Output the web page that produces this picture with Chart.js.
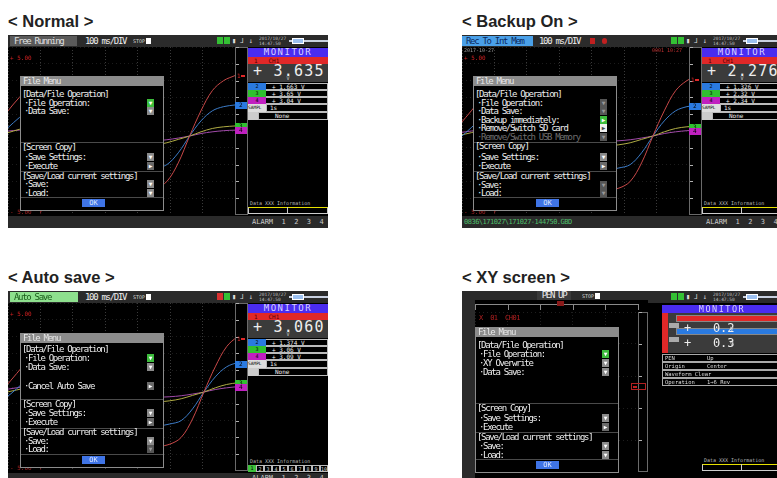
<!DOCTYPE html>
<html><head><meta charset="utf-8">
<script src="https://cdn.jsdelivr.net/npm/chart.js@4.4.1/dist/chart.umd.min.js"></script>
<style>
html,body{margin:0;padding:0}
body{width:777px;height:478px;overflow:hidden;position:relative;background:#fff}
.t{position:absolute;font:bold 16.5px "Liberation Sans",Arial,sans-serif;color:#222;line-height:18px;white-space:nowrap}
.scr{position:absolute;width:320px;height:193px;background:#000;overflow:hidden;font-family:"DejaVu Sans Mono",monospace;color:#e6e6e6}
.a{position:absolute;box-sizing:border-box;white-space:pre;overflow:hidden}
canvas{position:absolute;background:#000}
</style></head><body>
<script>
// ═══════════════════════════════════════════════════════════════
// values (time in DIV, volts)
// ═══════════════════════════════════════════════════════════════
const times = [-1, -0.5, 0, 0.5, 1, 1.5, 2, 2.5, 3, 3.5, 4, 4.5, 5, 5.5, 6, 6.5, 7, 7.5, 8, 8.5, 9, 9.5, 10];
const ch1 = [-0.4, 0.4, 1.2, 2.0, 2.6, 2.9, 3.0, 2.9, 2.5, 1.6, 0.3, -1.2, -2.5, -3.2, -3.5, -3.4, -3.0, -1.9, -0.3, 1.2, 2.4, 3.0, 3.3];
const ch2 = [-0.9, -0.4, 0.2, 0.8, 1.3, 1.6, 1.7, 1.6, 1.2, 0.5, -0.4, -1.3, -1.9, -2.2, -2.3, -2.2, -2.0, -1.3, -0.3, 0.6, 1.2, 1.45, 1.55];
const ch3 = [-0.4, -0.25, -0.1, 0.1, 0.25, 0.3, 0.32, 0.28, 0.15, -0.05, -0.3, -0.55, -0.75, -0.85, -0.88, -0.82, -0.7, -0.5, -0.3, -0.05, 0.15, 0.25, 0.3];
const ch4 = [-0.2, -0.1, 0.0, 0.05, 0.08, 0.1, 0.1, 0.08, 0.0, -0.1, -0.25, -0.4, -0.5, -0.58, -0.6, -0.58, -0.52, -0.42, -0.3, -0.15, -0.05, 0.02, 0.05];
const lineColors = ['#c84848', '#3c7cc8', '#b0ac44', '#a04aa8'];
const tagColors = ['#e02828', '#2a7ae0', '#30c030', '#c020c0'];

// time window shown on each screen
const winNormal = [0, 10];
const winBackup = [-0.41, 9.59];
const winAuto = [-0.63, 9.37];

// XY screen pen position (V)
const penX = [0.2];
const penY = [0.3];

// monitor readouts
const monNormal = ['+ 3.635', '+ 1.663 V', '+ 3.65 V', '+ 3.04 V'];
const monBackup = ['+ 2.276', '+ 1.326 V', '+ 2.32 V', '+ 2.34 V'];
const monAuto = ['+ 3.060', '+ 1.374 V', '+ 3.06 V', '+ 3.09 V'];

// ═══════════════════════════════════════════════════════════════
// helpers
// ═══════════════════════════════════════════════════════════════
const FS = 'font-size:9px;letter-spacing:-1.3px;';

function put(p, x, y, w, h, css, text) {
  const d = document.createElement('div');
  d.className = 'a';
  d.style.cssText = `left:${x}px;top:${y}px;width:${w}px;height:${h}px;line-height:${h}px;` + (css || '');
  if (text !== undefined) d.textContent = text;
  p.appendChild(d);
  return d;
}

function screen(x, y, title) {
  const t = document.createElement('div');
  t.className = 't';
  t.style.left = x + 'px';
  t.style.top = (y - 23) + 'px';
  t.textContent = title;
  document.body.appendChild(t);
  const s = document.createElement('div');
  s.className = 'scr';
  s.style.left = x + 'px';
  s.style.top = y + 'px';
  document.body.appendChild(s);
  return s;
}

function statusBar(s, o) {
  put(s, 0, 0, 320, 12, 'background:#2b2b2b');
  if (o.label) put(s, o.lx, 1, o.lw, 10, `background:${o.lbg};color:${o.lfg};padding-left:4px;` + FS, o.label);
  if (o.div) put(s, 77, 1, 48, 10, 'color:#eee;' + FS, o.div);
  if (o.stop != null) {
    put(s, o.stop, 1, 14, 10, 'color:#ddd;font-size:5px', 'STOP');
    put(s, o.stop + 13, 3, 5, 6, 'background:#fff');
  }
  if (o.rec) {
    put(s, 128, 3, 5, 6, 'background:#c02020');
    put(s, 140, 3, 5, 6, 'background:#c02020;border-radius:3px');
  }
  put(s, 209, 2, 6, 7, 'background:' + o.lamps[0]);
  put(s, 216, 2, 6, 7, 'background:' + o.lamps[1]);
  put(s, 224, 1, 26, 10, 'color:#ddd;font-size:7px', '▮ ⅃ ↓');
  put(s, 251, 1, 28, 5, 'color:#bbb;font-size:4.5px', '2017/10/27');
  put(s, 251, 6, 28, 5, 'color:#bbb;font-size:4.5px', '14:47:50');
  put(s, 281, 5, 39, 2, 'background:#c8d0e0');
  put(s, 284, 3, 12, 6, 'background:#9cc0f0;border:1px solid #fff');
}

function monitor(s, vals) {
  put(s, 240, 13, 80, 9, 'background:#4a2cf0;color:#d8d0ff;text-align:center;font-size:9px;letter-spacing:1.5px', 'MONITOR');
  put(s, 240, 22, 80, 7, 'background:#e02828;color:#500;font-size:6px;padding-left:6px', '1   CH1');
  put(s, 240, 29, 80, 18, 'background:#3b3b3b;color:#eee;font-size:15px;letter-spacing:1.2px;padding-left:5px;line-height:15px', vals[0]);
  put(s, 240, 40, 80, 7, 'color:#ccc;font-size:5px;text-align:center', 'V');
  for (let i = 0; i < 3; i++) {
    const y = 48 + i * 7;
    put(s, 240, y, 18, 7, `background:${tagColors[i + 1]};color:#000;font-size:5px;text-align:center`, String(i + 2));
    put(s, 258, y, 62, 7, 'border:1px solid #bbb;border-left:0;color:#eee;font-size:6px;padding-left:6px;line-height:5px', vals[i + 1]);
  }
  put(s, 240, 69, 18, 8, 'background:#ddd;color:#000;font-size:4.5px', 'SAMPL');
  put(s, 258, 69, 62, 8, 'border:1px solid #bbb;color:#eee;font-size:6px;padding-left:3px;line-height:6px', '1s');
  put(s, 240, 77, 10, 8, 'background:#ccc');
  put(s, 250, 77, 70, 8, 'border:1px solid #bbb;color:#eee;font-size:6px;padding-left:16px;line-height:6px', 'None');
}

function dataInfo(s, y) {
  put(s, 240, y, 80, 8, 'color:#bbb;font-size:5px;padding-left:2px', 'Data XXX Information');
  put(s, 240, y + 8, 80, 7, 'border:1px solid #ccc;border-top:1px solid #e6e000');
  put(s, 279, y + 8, 1, 7, 'background:#ccc');
}

const ICONS = {
  g: ['#3cbc3c', '#fff', '▼'], G: ['#3cbc3c', '#fff', '▶'], v: ['#8a8a8a', '#fff', '▼'],
  p: ['#6a6a6a', '#fff', '▶'], w: ['#f0f0f0', '#444', '▶'], d: ['#555', '#999', '▼']
};

function fileMenu(s, m) {
  put(s, m.x, m.top, 144, m.bottom - m.top, 'background:#000;border:1px solid #8c8c8c');
  put(s, m.x, m.top, 144, 10, 'background:#8c8c8c;color:#e8e8e8;padding-left:3px;' + FS, 'File Menu');
  m.seps.forEach(y => put(s, m.x + 1, y, 142, 1, 'background:#4a4a4a'));
  m.rows.forEach(([text, y, icon, dim]) => {
    const sub = text.startsWith('·');
    put(s, m.x + (sub ? 4 : 2), y - 5, 124, 10, (dim ? 'color:#6e6e6e;' : 'color:#eee;') + FS, text);
    if (icon) {
      const [bg, fg, g] = ICONS[icon];
      put(s, m.x + 127, y - 4, 7, 8, `background:${bg};color:${fg};font-size:6px;text-align:center`, g);
    }
  });
  put(s, 74, m.ok, 23, 8, 'background:#3f74e6;color:#dfe8ff;text-align:center;font-size:7px', 'OK');
}

function valueAt(data, xv) {
  for (let i = 0; i < data.length - 1; i++) {
    const a = data[i], b = data[i + 1];
    if (xv >= a.x && xv <= b.x) return a.y + (b.y - a.y) * (xv - a.x) / (b.x - a.x);
  }
  return data[data.length - 1].y;
}

// right-hand scale strip, channel tags, XY ruler
const framePlugin = {
  id: 'frame',
  afterDatasetsDraw(chart, args, o) {
    const { ctx, chartArea: a, scales: { x, y } } = chart;
    const sx = a.right, sw = o.strip;
    ctx.save();
    ctx.lineWidth = 1;
    ctx.strokeStyle = '#6a6a6a';
    ctx.strokeRect(sx + 0.5, a.top + 0.5, sw - 1, a.bottom - a.top - 1);
    ctx.strokeStyle = '#b0b0b0';
    y.ticks.forEach(t => {
      const py = Math.round(y.getPixelForValue(t.value)) + 0.5;
      ctx.beginPath(); ctx.moveTo(sx + 1, py); ctx.lineTo(sx + 4, py); ctx.stroke();
    });
    ctx.font = '6px "DejaVu Sans Mono"';
    ctx.textBaseline = 'middle';
    if (o.kind === 'wave') {
      chart.data.datasets.forEach((ds, i) => {
        const py = Math.round(y.getPixelForValue(valueAt(ds.data, x.max)));
        if (i === 0) {
          ctx.fillStyle = tagColors[0];
          ctx.fillText('1', sx + 2, py);
          ctx.fillRect(sx + 6, py - 1, 4, 2);
        } else {
          ctx.fillStyle = tagColors[i];
          ctx.fillRect(sx, py - 3, sw - 1, 7);
          ctx.fillStyle = '#000';
          ctx.fillText(String(i + 1), sx + 4, py + 0.5);
        }
      });
    } else {
      const ry = a.top - 8;
      ctx.strokeStyle = '#8a8a8a';
      ctx.beginPath(); ctx.moveTo(a.left, ry + 0.5); ctx.lineTo(a.right, ry + 0.5); ctx.stroke();
      x.ticks.forEach(t => {
        const px = Math.round(x.getPixelForValue(t.value)) + 0.5;
        ctx.beginPath(); ctx.moveTo(px, ry); ctx.lineTo(px, a.top - 2); ctx.stroke();
      });
      ctx.fillStyle = '#8a1a1a';
      ctx.fillRect(Math.round(x.getPixelForValue(penX[0])) - 3, ry - 3, 7, 5);
      const py = Math.round(y.getPixelForValue(penY[0]));
      ctx.strokeStyle = '#b02020';
      ctx.strokeRect(sx - 6.5, py - 3.5, sw + 4, 6);
      ctx.fillStyle = '#c02020';
      ctx.fillRect(sx - 5, py - 1, 4, 2);
    }
    ctx.restore();
  }
};

function baseScales(xmin, xmax, xcount, ystep, gridX, gridY) {
  return {
    x: { type: 'linear', min: xmin, max: xmax, ticks: { display: false, count: xcount },
         grid: { color: gridX, drawTicks: false }, border: { display: false, dash: [1, 2] } },
    y: { type: 'linear', min: -5, max: 5, ticks: { display: false, stepSize: ystep },
         grid: { color: gridY, drawTicks: false }, border: { display: false, dash: [1, 3] } }
  };
}

function waveChart(s, win) {
  const c = document.createElement('canvas');
  c.width = 240; c.height = 168;
  c.style.left = '0px'; c.style.top = '12px';
  s.appendChild(c);
  const series = [ch1, ch2, ch3, ch4];
  return new Chart(c, {
    type: 'line',
    data: {
      datasets: series.map((vals, i) => ({
        label: 'CH' + (i + 1),
        data: times.map((t, j) => ({ x: t, y: vals[j] })),
        borderColor: lineColors[i],
        borderWidth: 1,
        pointRadius: 0,
        tension: 0.35
      }))
    },
    options: {
      responsive: false, animation: false, events: [],
      layout: { padding: { right: 13 } },
      plugins: { legend: { display: false }, tooltip: { enabled: false }, frame: { kind: 'wave', strip: 13 } },
      scales: baseScales(win[0], win[1], 8, 1, '#3a3a3a', '#1c1c1c')
    },
    plugins: [framePlugin]
  });
}

function xyChart(s) {
  const c = document.createElement('canvas');
  c.width = 173; c.height = 172;
  c.style.left = '13px'; c.style.top = '9px';
  s.appendChild(c);
  return new Chart(c, {
    type: 'scatter',
    data: { datasets: [{ label: 'PEN', data: penX.map((v, i) => ({ x: v, y: penY[i] })), pointRadius: 0 }] },
    options: {
      responsive: false, animation: false, events: [],
      layout: { padding: { top: 12, right: 10 } },
      plugins: { legend: { display: false }, tooltip: { enabled: false }, frame: { kind: 'xy', strip: 10 } },
      scales: baseScales(-5, 5, 6, 2, '#1e1e1e', '#1e1e1e')
    },
    plugins: [framePlugin]
  });
}

function waveScreen(s, mon) {
  waveChart(s, mon.win);
  put(s, 2, 19, 40, 7, 'color:#d02020;font-size:6px', '+ 5.00');
  put(s, 2, 173, 50, 7, 'color:#a02020;font-size:6px', '- 5.00  ↑');
  monitor(s, mon.vals);
}

// ═══════════════════════════════════════════════════════════════
// < Normal >
// ═══════════════════════════════════════════════════════════════
const s1 = screen(8, 35, '< Normal >');
statusBar(s1, { label: 'Free Running', lx: 2, lw: 67, lbg: '#5a5a5a', lfg: '#e0e0e0', div: '100 ms/DIV', stop: 125, lamps: ['#34c034', '#34c034'] });
waveScreen(s1, { win: winNormal, vals: monNormal });
dataInfo(s1, 164);
put(s1, 0, 181, 320, 12, 'background:#2a2a2a');
put(s1, 240, 181, 80, 12, 'color:#ccc;font-size:7px;padding-left:4px', 'ALARM  1  2  3  4');
fileMenu(s1, {
  x: 12, top: 41, bottom: 176, ok: 164, seps: [107, 136, 162],
  rows: [['[Data/File Operation]', 59], ['·File Operation:', 68, 'g'], ['·Data Save:', 76, 'v'],
         ['[Screen Copy]', 112], ['·Save Settings:', 122, 'v'], ['·Execute', 131, 'p'],
         ['[Save/Load current settings]', 141], ['·Save:', 149, 'v'], ['·Load:', 158, 'v']]
});

// ═══════════════════════════════════════════════════════════════
// < Backup On >
// ═══════════════════════════════════════════════════════════════
const s2 = screen(462, 35, '< Backup On >');
statusBar(s2, { label: 'Rec To Int Mem', lx: 0, lw: 71, lbg: '#4aa0e8', lfg: '#0a2a60', div: '100 ms/DIV', rec: true, lamps: ['#34c034', '#34c034'] });
waveScreen(s2, { win: winBackup, vals: monBackup });
put(s2, 2, 12, 60, 6, 'color:#9a9a9a;font-size:5px', '2017-10-27');
put(s2, 190, 12, 36, 6, 'color:#c03030;font-size:5px', '0001 10:27');
dataInfo(s2, 164);
put(s2, 0, 181, 320, 12, 'background:#2a2a2a');
put(s2, 0, 181, 125, 12, 'color:#4fbf6a;font-size:7px;letter-spacing:-0.5px;padding-left:2px', '0836\\171027\\171027-144750.GBD');
put(s2, 240, 181, 80, 12, 'color:#ccc;font-size:7px;padding-left:4px', 'ALARM  1  2  3  4');
fileMenu(s2, {
  x: 11, top: 41, bottom: 176, ok: 164, seps: [107, 136, 162],
  rows: [['[Data/File Operation]', 59], ['·File Operation:', 68, 'd'], ['·Data Save:', 76, 'd'],
         ['·Backup immediately:', 85, 'G'], ['·Remove/Switch SD card', 93, 'w'],
         ['·Remove/Switch USB Memory', 102, 'd', true],
         ['[Screen Copy]', 111], ['·Save Settings:', 122, 'v'], ['·Execute', 131, 'p'],
         ['[Save/Load current settings]', 141], ['·Save:', 150, 'd'], ['·Load:', 158, 'd']]
});

// ═══════════════════════════════════════════════════════════════
// < Auto save >
// ═══════════════════════════════════════════════════════════════
const s3 = screen(8, 291, '< Auto save >');
statusBar(s3, { label: 'Auto Save', lx: 2, lw: 68, lbg: '#8ee08e', lfg: '#1a5a1a', div: '100 ms/DIV', stop: 125, lamps: ['#d83030', '#34c034'] });
waveScreen(s3, { win: winAuto, vals: monAuto });
put(s3, 240, 166, 80, 8, 'color:#bbb;font-size:5px;padding-left:2px', 'Data XXX Information');
for (let i = 0; i < 10; i++) {
  put(s3, 240 + i * 8, 174, 8, 7, (i === 0 ? 'background:#3cc03c;color:#000;' : 'border:1px solid #bbb;color:#ddd;') + 'font-size:5px;text-align:center', String(i + 1));
}
put(s3, 0, 182, 320, 11, 'background:#2a2a2a');
put(s3, 240, 182, 80, 11, 'color:#ccc;font-size:7px;padding-left:4px', 'ALARM  1  2  3  4');
fileMenu(s3, {
  x: 12, top: 42, bottom: 177, ok: 165, seps: [108, 137, 163],
  rows: [['[Data/File Operation]', 58], ['·File Operation:', 67, 'g'], ['·Data Save:', 76, 'v'],
         ['·Cancel Auto Save', 95, 'p'],
         ['[Screen Copy]', 113], ['·Save Settings:', 122, 'v'], ['·Execute', 131, 'p'],
         ['[Save/Load current settings]', 141], ['·Save:', 150, 'v'], ['·Load:', 158, 'd']]
});

// ═══════════════════════════════════════════════════════════════
// < XY screen >
// ═══════════════════════════════════════════════════════════════
const s4 = screen(462, 291, '< XY screen >');
statusBar(s4, { lamps: ['#34c034', '#34c034'] });
put(s4, 75, 0, 34, 9, 'background:#3a3a3a;color:#eee;text-align:center;' + FS, 'PEN UP');
put(s4, 120, 1, 14, 8, 'color:#ddd;font-size:5px', 'STOP');
put(s4, 133, 2, 5, 6, 'background:#fff');
put(s4, 0, 9, 13, 184, 'background:#2b2b2b');
xyChart(s4);
put(s4, 17, 23, 50, 9, 'color:#b02020;font-size:7px;letter-spacing:-0.5px', 'X  01  CH01');
// XY monitor
put(s4, 200, 14, 120, 8, 'background:#4a2cf0;color:#d8d0ff;text-align:center;font-size:8.5px;letter-spacing:1.5px', 'MONITOR');
put(s4, 200, 22, 120, 40, 'background:#3b3b3b');
put(s4, 200, 22, 6, 40, 'background:#e02828');
put(s4, 214, 24, 104, 7, 'background:#e02828;border:1px solid #888');
put(s4, 214, 37, 104, 7, 'background:#2a7ae0;border:1px solid #888');
put(s4, 207, 32, 10, 5, 'background:#aaa');
put(s4, 207, 46, 10, 5, 'background:#aaa');
put(s4, 222, 30, 90, 14, 'color:#eee;font-size:12px', '+   0.2  ');
put(s4, 268, 33, 10, 10, 'color:#ccc;font-size:6px', 'V');
put(s4, 222, 45, 90, 14, 'color:#eee;font-size:12px', '+   0.3  ');
put(s4, 268, 48, 10, 10, 'color:#ccc;font-size:6px', 'V');
[['PEN', 'Up'], ['Origin', 'Center'], ['Waveform Clear', ''], ['Operation', '1→6 Rev']].forEach((r, i) => {
  put(s4, 200, 63 + i * 8, 120, 8, 'border:1px solid #aaa;color:#ddd;font-size:5.5px;padding-left:2px;line-height:6px', r[0]);
  put(s4, 245, 64 + i * 8, 60, 6, 'color:#ddd;font-size:5.5px;line-height:6px', r[1]);
});
dataInfo(s4, 165);
fileMenu(s4, {
  x: 13, top: 36, bottom: 182, ok: 170, seps: [112, 141, 168],
  rows: [['[Data/File Operation]', 54], ['·File Operation:', 63, 'g'], ['·XY Overwrite', 72, 'v'],
         ['·Data Save:', 81, 'v'],
         ['[Screen Copy]', 117], ['·Save Settings:', 127, 'v'], ['·Execute', 136, 'p'],
         ['[Save/Load current settings]', 146], ['·Save:', 155, 'v'], ['·Load:', 164, 'v']]
});
</script>
</body></html>
